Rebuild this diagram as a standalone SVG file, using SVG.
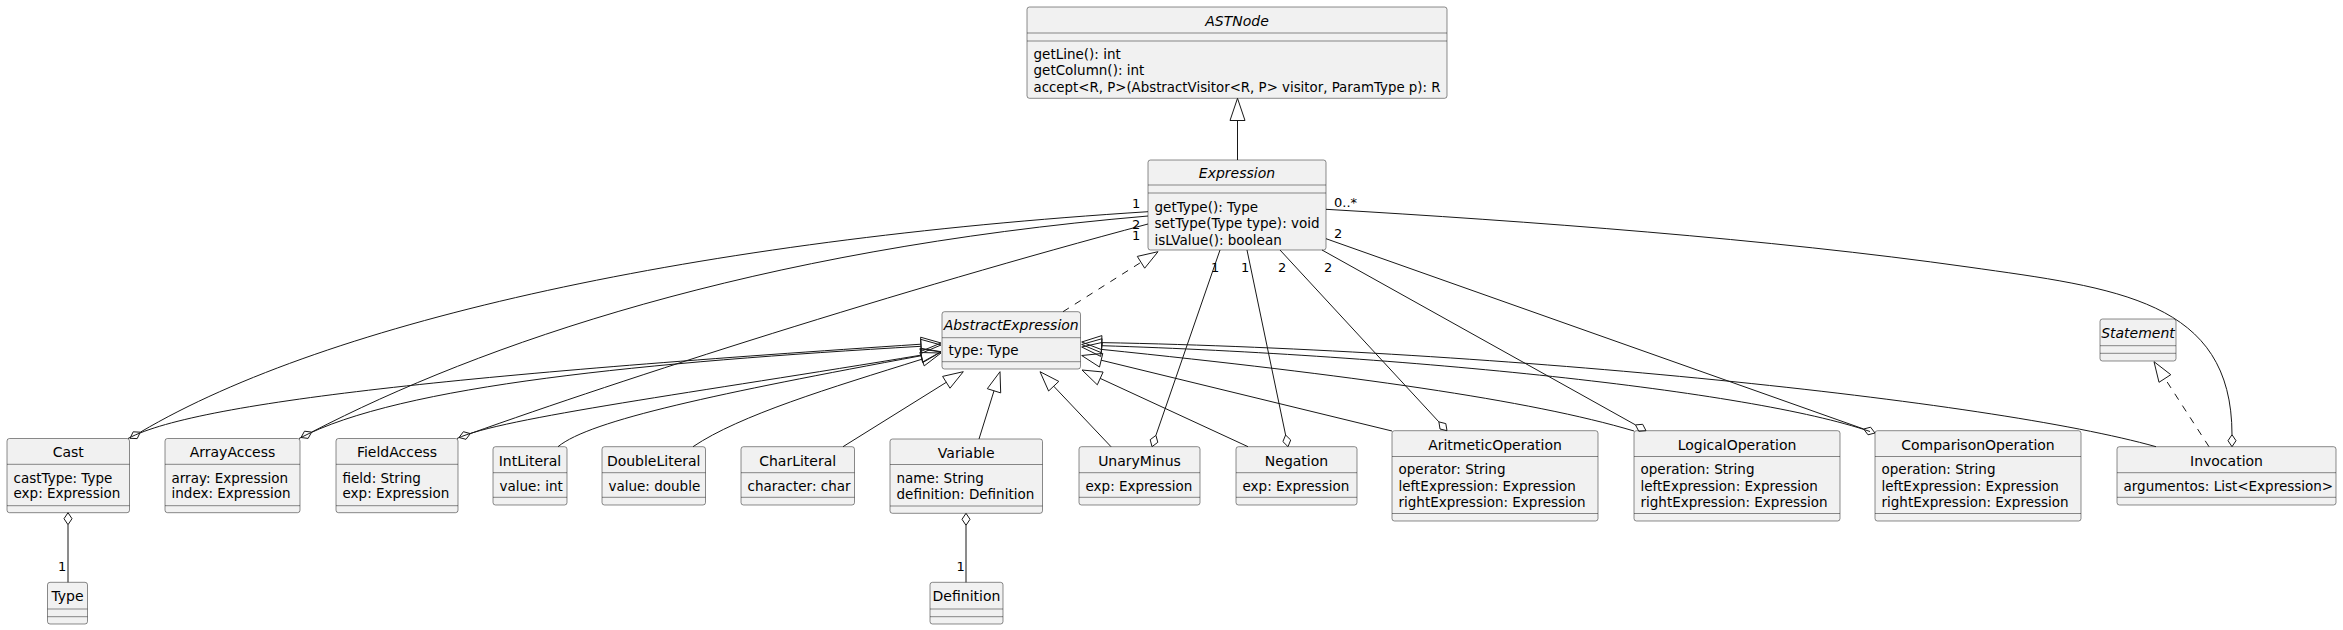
<svg xmlns="http://www.w3.org/2000/svg" width="2343" height="630" viewBox="0 0 2343 630">
<style>
.box{fill:#F1F1F1;stroke:#181818;stroke-width:0.5}
.sep{stroke:#181818;stroke-width:0.5}
.e{fill:none;stroke:#181818;stroke-width:1}
.d{stroke-dasharray:7,7}
.h{fill:none;stroke:#181818;stroke-width:1}
text{font-family:"DejaVu Sans","Liberation Sans",sans-serif;fill:#000}
.t{font-size:14px;text-anchor:middle}
.i{font-style:italic}
.m{font-size:13.5px}
.l{font-size:13px}
</style>
<rect width="2343" height="630" fill="#FFFFFF"/>

<g id="ASTNode">
<rect class="box" x="1027" y="7" width="420" height="91.3" rx="2.5"/>
<text class="t i" x="1237" y="26">ASTNode</text>
<line class="sep" x1="1027" y1="33" x2="1447" y2="33"/>
<line class="sep" x1="1027" y1="41" x2="1447" y2="41"/>
<text class="m" x="1033.5" y="58.5">getLine(): int</text>
<text class="m" x="1033.5" y="75">getColumn(): int</text>
<text class="m" x="1033.5" y="91.5" textLength="407" lengthAdjust="spacingAndGlyphs">accept&lt;R, P&gt;(AbstractVisitor&lt;R, P&gt; visitor, ParamType p): R</text>
</g>

<g id="Expression">
<rect class="box" x="1148" y="160" width="178" height="90" rx="2.5"/>
<text class="t i" x="1237" y="178">Expression</text>
<line class="sep" x1="1148" y1="185" x2="1326" y2="185"/>
<line class="sep" x1="1148" y1="193" x2="1326" y2="193"/>
<text class="m" x="1154.5" y="211.5">getType(): Type</text>
<text class="m" x="1154.5" y="228">setType(Type type): void</text>
<text class="m" x="1154.5" y="244.5">isLValue(): boolean</text>
</g>

<g id="AbstractExpression">
<rect class="box" x="942" y="311.7" width="138.5" height="57.3" rx="2.5"/>
<text class="t i" x="1011.2" y="330">AbstractExpression</text>
<line class="sep" x1="942" y1="337.7" x2="1080.5" y2="337.7"/>
<text class="m" x="948.5" y="355">type: Type</text>
<line class="sep" x1="942" y1="361.7" x2="1080.5" y2="361.7"/>
</g>

<g id="Statement">
<rect class="box" x="2100" y="319" width="76" height="42" rx="2.5"/>
<text class="t i" x="2138" y="338">Statement</text>
<line class="sep" x1="2100" y1="345.7" x2="2176" y2="345.7"/>
<line class="sep" x1="2100" y1="353.3" x2="2176" y2="353.3"/>
</g>

<g id="Cast">
<rect class="box" x="7" y="438.5" width="122.5" height="74.2" rx="2.5"/>
<text class="t" x="68.2" y="457">Cast</text>
<line class="sep" x1="7" y1="464.3" x2="129.5" y2="464.3"/>
<text class="m" x="13.5" y="482.5">castType: Type</text>
<text class="m" x="13.5" y="498">exp: Expression</text>
<line class="sep" x1="7" y1="505.7" x2="129.5" y2="505.7"/>
</g>

<g id="ArrayAccess">
<rect class="box" x="165" y="438.5" width="135" height="74.2" rx="2.5"/>
<text class="t" x="232.5" y="457">ArrayAccess</text>
<line class="sep" x1="165" y1="464.3" x2="300" y2="464.3"/>
<text class="m" x="171.5" y="482.5">array: Expression</text>
<text class="m" x="171.5" y="498">index: Expression</text>
<line class="sep" x1="165" y1="505.7" x2="300" y2="505.7"/>
</g>

<g id="FieldAccess">
<rect class="box" x="336" y="438.5" width="122" height="74.2" rx="2.5"/>
<text class="t" x="397" y="457">FieldAccess</text>
<line class="sep" x1="336" y1="464.3" x2="458" y2="464.3"/>
<text class="m" x="342.5" y="482.5">field: String</text>
<text class="m" x="342.5" y="498">exp: Expression</text>
<line class="sep" x1="336" y1="505.7" x2="458" y2="505.7"/>
</g>

<g id="IntLiteral">
<rect class="box" x="493" y="446.7" width="74" height="58.3" rx="2.5"/>
<text class="t" x="530" y="465.5">IntLiteral</text>
<line class="sep" x1="493" y1="472.7" x2="567" y2="472.7"/>
<text class="m" x="499.5" y="490.5">value: int</text>
<line class="sep" x1="493" y1="497.3" x2="567" y2="497.3"/>
</g>

<g id="DoubleLiteral">
<rect class="box" x="602" y="446.7" width="103.5" height="58.3" rx="2.5"/>
<text class="t" x="653.7" y="465.5">DoubleLiteral</text>
<line class="sep" x1="602" y1="472.7" x2="705.5" y2="472.7"/>
<text class="m" x="608.5" y="490.5">value: double</text>
<line class="sep" x1="602" y1="497.3" x2="705.5" y2="497.3"/>
</g>

<g id="CharLiteral">
<rect class="box" x="741" y="446.7" width="113.5" height="58.3" rx="2.5"/>
<text class="t" x="797.7" y="465.5">CharLiteral</text>
<line class="sep" x1="741" y1="472.7" x2="854.5" y2="472.7"/>
<text class="m" x="747.5" y="490.5">character: char</text>
<line class="sep" x1="741" y1="497.3" x2="854.5" y2="497.3"/>
</g>

<g id="Variable">
<rect class="box" x="890" y="439" width="152.5" height="74.3" rx="2.5"/>
<text class="t" x="966.2" y="457.5">Variable</text>
<line class="sep" x1="890" y1="464.5" x2="1042.5" y2="464.5"/>
<text class="m" x="896.5" y="483">name: String</text>
<text class="m" x="896.5" y="498.5">definition: Definition</text>
<line class="sep" x1="890" y1="506" x2="1042.5" y2="506"/>
</g>

<g id="UnaryMinus">
<rect class="box" x="1079" y="446.7" width="121" height="58.3" rx="2.5"/>
<text class="t" x="1139.5" y="465.5">UnaryMinus</text>
<line class="sep" x1="1079" y1="472.7" x2="1200" y2="472.7"/>
<text class="m" x="1085.5" y="490.5">exp: Expression</text>
<line class="sep" x1="1079" y1="497.3" x2="1200" y2="497.3"/>
</g>

<g id="Negation">
<rect class="box" x="1236" y="446.7" width="121" height="58.3" rx="2.5"/>
<text class="t" x="1296.5" y="465.5">Negation</text>
<line class="sep" x1="1236" y1="472.7" x2="1357" y2="472.7"/>
<text class="m" x="1242.5" y="490.5">exp: Expression</text>
<line class="sep" x1="1236" y1="497.3" x2="1357" y2="497.3"/>
</g>

<g id="AritmeticOperation">
<rect class="box" x="1392" y="430.7" width="206" height="90.3" rx="2.5"/>
<text class="t" x="1495" y="449.5">AritmeticOperation</text>
<line class="sep" x1="1392" y1="456.5" x2="1598" y2="456.5"/>
<text class="m" x="1398.5" y="474">operator: String</text>
<text class="m" x="1398.5" y="490.5">leftExpression: Expression</text>
<text class="m" x="1398.5" y="507">rightExpression: Expression</text>
<line class="sep" x1="1392" y1="513.5" x2="1598" y2="513.5"/>
</g>

<g id="LogicalOperation">
<rect class="box" x="1634" y="430.7" width="206" height="90.3" rx="2.5"/>
<text class="t" x="1737" y="449.5">LogicalOperation</text>
<line class="sep" x1="1634" y1="456.5" x2="1840" y2="456.5"/>
<text class="m" x="1640.5" y="474">operation: String</text>
<text class="m" x="1640.5" y="490.5">leftExpression: Expression</text>
<text class="m" x="1640.5" y="507">rightExpression: Expression</text>
<line class="sep" x1="1634" y1="513.5" x2="1840" y2="513.5"/>
</g>

<g id="ComparisonOperation">
<rect class="box" x="1875" y="430.7" width="206" height="90.3" rx="2.5"/>
<text class="t" x="1978" y="449.5">ComparisonOperation</text>
<line class="sep" x1="1875" y1="456.5" x2="2081" y2="456.5"/>
<text class="m" x="1881.5" y="474">operation: String</text>
<text class="m" x="1881.5" y="490.5">leftExpression: Expression</text>
<text class="m" x="1881.5" y="507">rightExpression: Expression</text>
<line class="sep" x1="1875" y1="513.5" x2="2081" y2="513.5"/>
</g>

<g id="Invocation">
<rect class="box" x="2117" y="446.7" width="219" height="58.3" rx="2.5"/>
<text class="t" x="2226.5" y="465.5">Invocation</text>
<line class="sep" x1="2117" y1="472.7" x2="2336" y2="472.7"/>
<text class="m" x="2123.5" y="490.5">argumentos: List&lt;Expression&gt;</text>
<line class="sep" x1="2117" y1="497.3" x2="2336" y2="497.3"/>
</g>

<g id="Type">
<rect class="box" x="47.5" y="582.3" width="40" height="41.7" rx="2.5"/>
<text class="t" x="67.5" y="601">Type</text>
<line class="sep" x1="47.5" y1="609" x2="87.5" y2="609"/>
<line class="sep" x1="47.5" y1="616.7" x2="87.5" y2="616.7"/>
</g>

<g id="Definition">
<rect class="box" x="930" y="582.3" width="73" height="41.7" rx="2.5"/>
<text class="t" x="966.5" y="601">Definition</text>
<line class="sep" x1="930" y1="609" x2="1003" y2="609"/>
<line class="sep" x1="930" y1="616.7" x2="1003" y2="616.7"/>
</g>

<g id="connectors">
<!-- Expression extends ASTNode -->
<path class="e" d="M1237.5,160 L1237.5,120.5"/>
<polygon class="h" points="1237.5,98.3 1230,120.5 1245,120.5"/>
<!-- AbstractExpression implements Expression -->
<path class="e d" d="M1063,311.7 L1141,262.3"/>
<polygon class="h" points="1158,251.7 1144.7,268.2 1137.3,256.4"/>
<!-- Invocation implements Statement -->
<path class="e d" d="M2209,446.7 L2164.9,378.5"/>
<polygon class="h" points="2154,361.7 2170.8,374.7 2159,382.3"/>

<!-- extends AbstractExpression -->
<path class="e" d="M128,438.5 C200,400 500,372 921,344.2"/>
<polygon class="h" points="941,343 921.4,351.2 920.6,337.2"/>
<path class="e" d="M299,438.5 C400,385 650,362 921,346.3"/>
<polygon class="h" points="941,345 921.4,353.3 920.6,339.3"/>
<path class="e" d="M457,438.5 C500,418 700,392 921.3,355.1"/>
<polygon class="h" points="941,351.7 922.5,362 920.1,348.2"/>
<path class="e" d="M558,446.7 C590,420 720,393 921.4,355.7"/>
<polygon class="h" points="941,352 922.7,362.6 920.1,348.8"/>
<path class="e" d="M693,446.7 C740,415 830,388 922,359.2"/>
<polygon class="h" points="941,353 924.2,365.9 919.8,352.5"/>
<path class="e" d="M843,446.7 L946.3,382.3"/>
<polygon class="h" points="963.3,371.7 950,388.2 942.6,376.4"/>
<path class="e" d="M979,439 L994,390.8"/>
<polygon class="h" points="1000,371.7 1000.7,392.9 987.3,388.7"/>
<path class="e" d="M1111,446.7 L1053.7,386.2"/>
<polygon class="h" points="1040,371.7 1058.8,381.4 1048.6,391"/>
<path class="e" d="M1248,446.7 L1100.2,378.4"/>
<polygon class="h" points="1082,370 1103.1,372 1097.3,384.8"/>
<path class="e" d="M1392,431 L1101.1,360.2"/>
<polygon class="h" points="1081.7,355.5 1102.8,353.4 1099.5,367"/>
<path class="e" d="M1634,431 C1530,400 1350,375 1101.6,349.4"/>
<polygon class="h" points="1081.7,347 1102.4,342.4 1100.7,356.4"/>
<path class="e" d="M1870,431.5 C1750,390 1400,355 1101.7,345.7"/>
<polygon class="h" points="1081.7,344.5 1102.1,338.7 1101.3,352.7"/>
<path class="e" d="M2156,446.7 C1990,400 1500,350 1101.7,342.6"/>
<polygon class="h" points="1081.7,342 1101.9,335.6 1101.5,349.6"/>

<!-- aggregations from Expression -->
<path class="e" d="M1148,211.7 C700,240 330,320 140.3,432.2"/>
<polygon class="h" points="130,438.3 137.2,438.6 140.3,432.2 133.2,431.8"/>
<path class="e" d="M1148,216 C750,250 480,345 311.7,432.1"/>
<polygon class="h" points="301,437.5 308.1,438.4 311.7,432.1 304.5,431.2"/>
<path class="e" d="M1148,224 C900,290 620,380 470.3,433.6"/>
<polygon class="h" points="459,437.5 466,439.3 470.3,433.6 463.4,431.7"/>
<path class="e" d="M1220,250 L1155.9,435.4"/>
<polygon class="h" points="1152,446.7 1157.8,442.3 1155.9,435.4 1150.2,439.7"/>
<path class="e" d="M1247,250 L1285.6,435"/>
<polygon class="h" points="1288,446.7 1290.7,440 1285.6,435 1282.9,441.6"/>
<path class="e" d="M1280,250 L1438.9,421.9"/>
<polygon class="h" points="1447,430.7 1445.8,423.6 1438.9,421.9 1440,429"/>
<path class="e" d="M1322,250 L1635.5,424.9"/>
<polygon class="h" points="1646,430.7 1642.7,424.3 1635.5,424.9 1638.8,431.3"/>
<path class="e" d="M1326,238.7 L1863.7,429"/>
<polygon class="h" points="1875,433 1870.6,427.2 1863.7,429 1868,434.8"/>
<path class="e" d="M1326,209.3 C1526,221 1770,239 1968,267 C2116.5,288 2232,300 2232,434.7"/>
<polygon class="h" points="2232,446.7 2236,440.7 2232,434.7 2228,440.7"/>
<!-- Cast -> Type, Variable -> Definition -->
<path class="e" d="M68,524.7 L68,582.3"/>
<polygon class="h" points="68,512.7 72,518.7 68,524.7 64,518.7"/>
<path class="e" d="M966,525.3 L966,582.3"/>
<polygon class="h" points="966,513.3 970,519.3 966,525.3 962,519.3"/>

<!-- multiplicities -->
<text class="l" x="1132" y="208">1</text>
<text class="l" x="1132" y="229">2</text>
<text class="l" x="1132" y="240">1</text>
<text class="l" x="1334" y="207">0..*</text>
<text class="l" x="1334" y="238">2</text>
<text class="l" x="1211" y="272">1</text>
<text class="l" x="1241" y="272">1</text>
<text class="l" x="1278" y="272">2</text>
<text class="l" x="1324" y="272">2</text>
<text class="l" x="58" y="571">1</text>
<text class="l" x="956.5" y="571">1</text>
</g>
</svg>
